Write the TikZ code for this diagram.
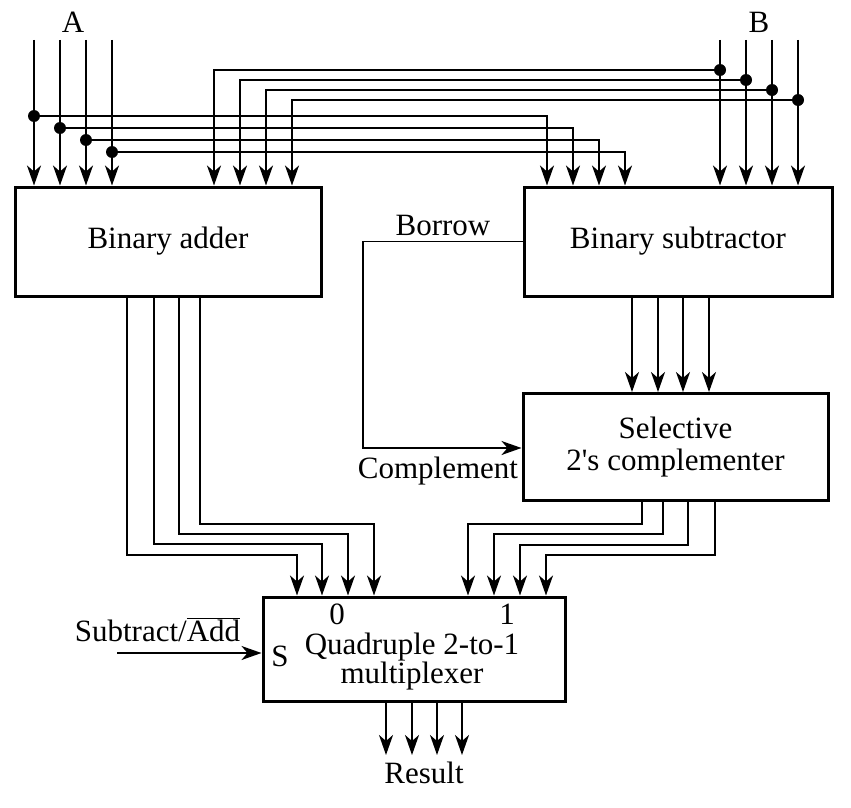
\documentclass[tikz,border=0pt]{standalone}
\usepackage{fontspec}
\setmainfont{Liberation Serif}
\usetikzlibrary{arrows.meta,calc}
\begin{document}
\begin{tikzpicture}[x=1pt,y=-1pt,
  every node/.style={font=\fontsize{31}{32}\selectfont, inner sep=0pt},
  blk/.style={draw, line width=3pt, align=center},
  wire/.style={line width=1.9pt},
  arr/.style={wire, -{Stealth[length=20pt,width=14pt,inset=6pt]}},
  lbl/.style={anchor=base},
  jdot/.style={fill=black}]
\useasboundingbox (0,0) rectangle (851,808);
% blocks
\node[blk, minimum width=306, minimum height=109] (adder) at (168,241.5) {Binary adder};
\node[blk, minimum width=308, minimum height=109] (sub) at (678,241.5) {Binary subtractor};
\node[blk, minimum width=305, minimum height=107] (comp) at (675.5,447) {Selective\\2\textquotesingle s complementer};
\node[blk, minimum width=302, minimum height=104] (mux) at (414,649) {};
% labels
\node[lbl] (la) at (73,33) {A};
\node[lbl] (lb) at (759,33) {B};
\node[lbl] (lmux1) at (412,654) {Quadruple 2-to-1};
\node[lbl] (lmux2) at (412,683) {multiplexer};
\node[lbl] (l0) at (337,624) {0};
\node[lbl] (l1) at (507,624) {1};
\node[lbl] (ls) at (280,666) {S};
\node[lbl] (lres) at (424,783) {Result};
\node[lbl] (lborrow) at (443,235) {Borrow};
\node[lbl] (lcompl) at (438,478) {Complement};
\node[lbl] (lsel) at (157.5,641) {Subtract/$\overline{\mbox{Add}}$};
% A inputs: to adder, tapped to subtractor
\foreach \x/\y/\sx [count=\i] in {34/116/547, 60/128/573, 86/140/599, 112/152/625}{
  \coordinate (ain\i) at (\x,40);
  \coordinate (ad\i) at (\x,\y);
  \coordinate (sa\i) at (\sx,0);
  \draw[arr] (ain\i) -- (ain\i |- adder.north);
  \draw[arr] (ad\i) -| (sa\i |- sub.north);
  \fill[jdot] (ad\i) circle[radius=6pt];
}
% B inputs: to subtractor, tapped to adder
\foreach \x/\y/\ax [count=\i] in {720/70/214, 746/80/240, 772/90/266, 798/100/292}{
  \coordinate (bin\i) at (\x,40);
  \coordinate (bd\i) at (\x,\y);
  \coordinate (ab\i) at (\ax,0);
  \draw[arr] (bin\i) -- (bin\i |- sub.north);
  \draw[arr] (bd\i) -| (ab\i |- adder.north);
  \fill[jdot] (bd\i) circle[radius=6pt];
}
% subtractor to complementer
\foreach \x [count=\i] in {632,658,683,709}{
  \coordinate (so\i) at (\x,0);
  \draw[arr] (so\i |- sub.south) -- (so\i |- comp.north);
}
% adder outputs to mux input 0
\foreach \x/\y/\mx [count=\i] in {127/555/297, 154/544/322, 179/534/348, 200/524/374}{
  \coordinate (ao\i) at (\x,\y);
  \coordinate (m0\i) at (\mx,\y);
  \draw[arr] (ao\i |- adder.south) -- (ao\i) -- (m0\i) -- (m0\i |- mux.north);
}
% complementer outputs to mux input 1
\foreach \x/\y/\mx [count=\i] in {642/524/468, 663/534/494, 688/545/520, 715/555/546}{
  \coordinate (co\i) at (\x,\y);
  \coordinate (m1\i) at (\mx,\y);
  \draw[arr] (co\i |- comp.south) -- (co\i) -- (m1\i) -- (m1\i |- mux.north);
}
% mux outputs
\foreach \x [count=\i] in {386,412,437,462}{
  \coordinate (mo\i) at (\x,755);
  \draw[arr] (mo\i |- mux.south) -- (mo\i);
}
% borrow / complement
\coordinate (bend) at (363,0);
\coordinate (cin) at (0,448);
\draw[arr] (sub.west) -- (bend |- sub.west) -- (bend |- cin) -- (comp.west |- cin);
% select
\coordinate (sel) at (117,653);
\draw[arr] (sel) -- (mux.west |- sel);
\end{tikzpicture}
\end{document}
